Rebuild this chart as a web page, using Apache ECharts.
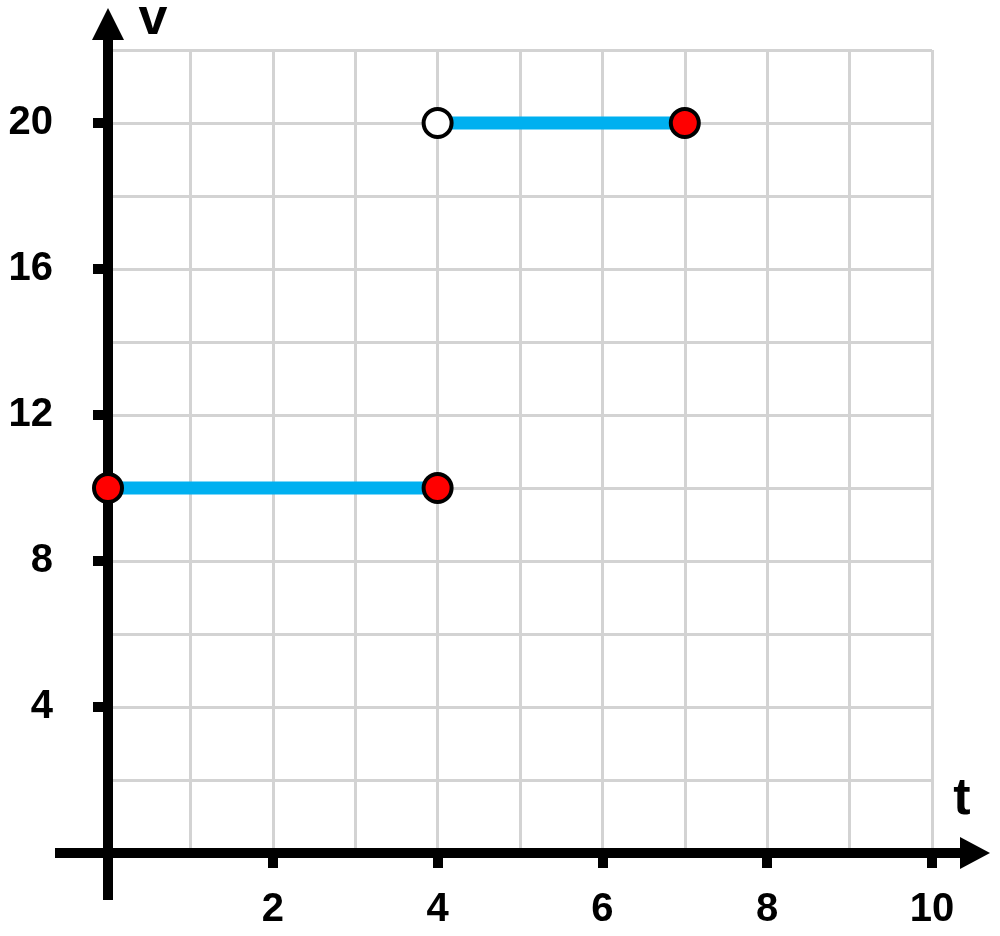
<!DOCTYPE html>
<html>
<head>
<meta charset="utf-8">
<script src="https://cdn.jsdelivr.net/npm/echarts@6/dist/echarts.min.js"></script>
<style>html,body{margin:0;padding:0;background:#fff}#c{width:1000px;height:936px}</style>
</head>
<body>
<div id="c"></div>
<script>
// ---- data ----
const xTickLabels = [2, 4, 6, 8, 10];
const yTickLabels = [4, 8, 12, 16, 20];
const segment1 = [[0, 10], [4, 10]];
const segment2 = [[4, 20], [7, 20]];
const closedPoints = [[0, 10], [4, 10], [7, 20]];
const openPoints = [[4, 20]];
const xName = 't';
const yName = 'v';

const FONT = 'Liberation Sans';
const chart = echarts.init(document.getElementById('c'), null, {renderer: 'canvas'});

const gridLine = {show: true, lineStyle: {color: '#d3d3d3', width: 3}};
const option = {
  animation: false,
  backgroundColor: '#fff',
  grid: {left: 108, right: 68, top: 50, bottom: 83, containLabel: false},
  xAxis: [
    {
      type: 'value', min: 0, max: 10, interval: 1,
      axisLine: {show: false}, axisTick: {show: false}, axisLabel: {show: false},
      splitLine: gridLine
    },
    {
      type: 'value', min: 0, max: 10, interval: 2, position: 'bottom',
      axisLine: {show: false}, splitLine: {show: false},
      axisTick: {show: true, customValues: xTickLabels, length: 15, lineStyle: {color: '#000', width: 10}},
      axisLabel: {show: true, customValues: xTickLabels, margin: 37, fontFamily: FONT, fontWeight: 'bold', fontSize: 40, color: '#000'}
    }
  ],
  yAxis: [
    {
      type: 'value', min: 0, max: 22, interval: 2,
      axisLine: {show: false}, axisTick: {show: false}, axisLabel: {show: false},
      splitLine: gridLine
    },
    {
      type: 'value', min: 0, max: 22, interval: 2, position: 'left',
      axisLine: {show: false}, splitLine: {show: false},
      axisTick: {show: true, customValues: yTickLabels, length: 15, lineStyle: {color: '#000', width: 10}},
      axisLabel: {show: true, customValues: yTickLabels, margin: 55, fontFamily: FONT, fontWeight: 'bold', fontSize: 40, color: '#000'}
    }
  ],
  series: [
    {type: 'line', data: segment1, showSymbol: false, symbol: 'none', clip: false, z: 3,
     lineStyle: {color: '#00B0F0', width: 13, cap: 'butt'}},
    {type: 'line', data: segment2, showSymbol: false, symbol: 'none', clip: false, z: 3,
     lineStyle: {color: '#00B0F0', width: 13, cap: 'butt'}},
    {type: 'scatter', data: closedPoints, symbol: 'circle', symbolSize: 28, clip: false, z: 5,
     itemStyle: {color: '#FF0000', borderColor: '#000', borderWidth: 4, opacity: 1}},
    {type: 'scatter', data: openPoints, symbol: 'circle', symbolSize: 28, clip: false, z: 5,
     itemStyle: {color: '#FFFFFF', borderColor: '#000', borderWidth: 4, opacity: 1}}
  ]
};
chart.setOption(option);

// axis lines with arrows, positioned from the chart's own scale
const o = chart.convertToPixel({gridIndex: 0}, [0, 0]);
const xEnd = chart.convertToPixel({gridIndex: 0}, [10, 0]);
const yEnd = chart.convertToPixel({gridIndex: 0}, [0, 22]);
const LW = 10, AH = 16;
const xLeft = o[0] - 53, xTip = xEnd[0] + 58, xBase = xTip - 30;
const yBottom = o[1] + 47, yTip = yEnd[1] - 42, yBase = yTip + 32;
chart.setOption({
  graphic: [
    {type: 'line', z: 2, shape: {x1: xLeft, y1: o[1], x2: xBase + 2, y2: o[1]}, style: {stroke: '#000', lineWidth: LW}},
    {type: 'polygon', z: 2, shape: {points: [[xTip, o[1]], [xBase, o[1] - AH], [xBase, o[1] + AH]]}, style: {fill: '#000'}},
    {type: 'line', z: 2, shape: {x1: o[0], y1: yBottom, x2: o[0], y2: yBase - 2}, style: {stroke: '#000', lineWidth: LW}},
    {type: 'polygon', z: 2, shape: {points: [[o[0], yTip], [o[0] - AH, yBase], [o[0] + AH, yBase]]}, style: {fill: '#000'}},
    {type: 'text', z: 2, x: o[0] + 45, y: yEnd[1] - 30,
     style: {text: yName, font: 'bold 52px "' + FONT + '"', fill: '#000', textAlign: 'center', textVerticalAlign: 'middle'}},
    {type: 'text', z: 2, x: xEnd[0] + 30, y: o[1] - 53,
     style: {text: xName, font: 'bold 52px "' + FONT + '"', fill: '#000', textAlign: 'center', textVerticalAlign: 'middle'}}
  ]
});
</script>
</body>
</html>
